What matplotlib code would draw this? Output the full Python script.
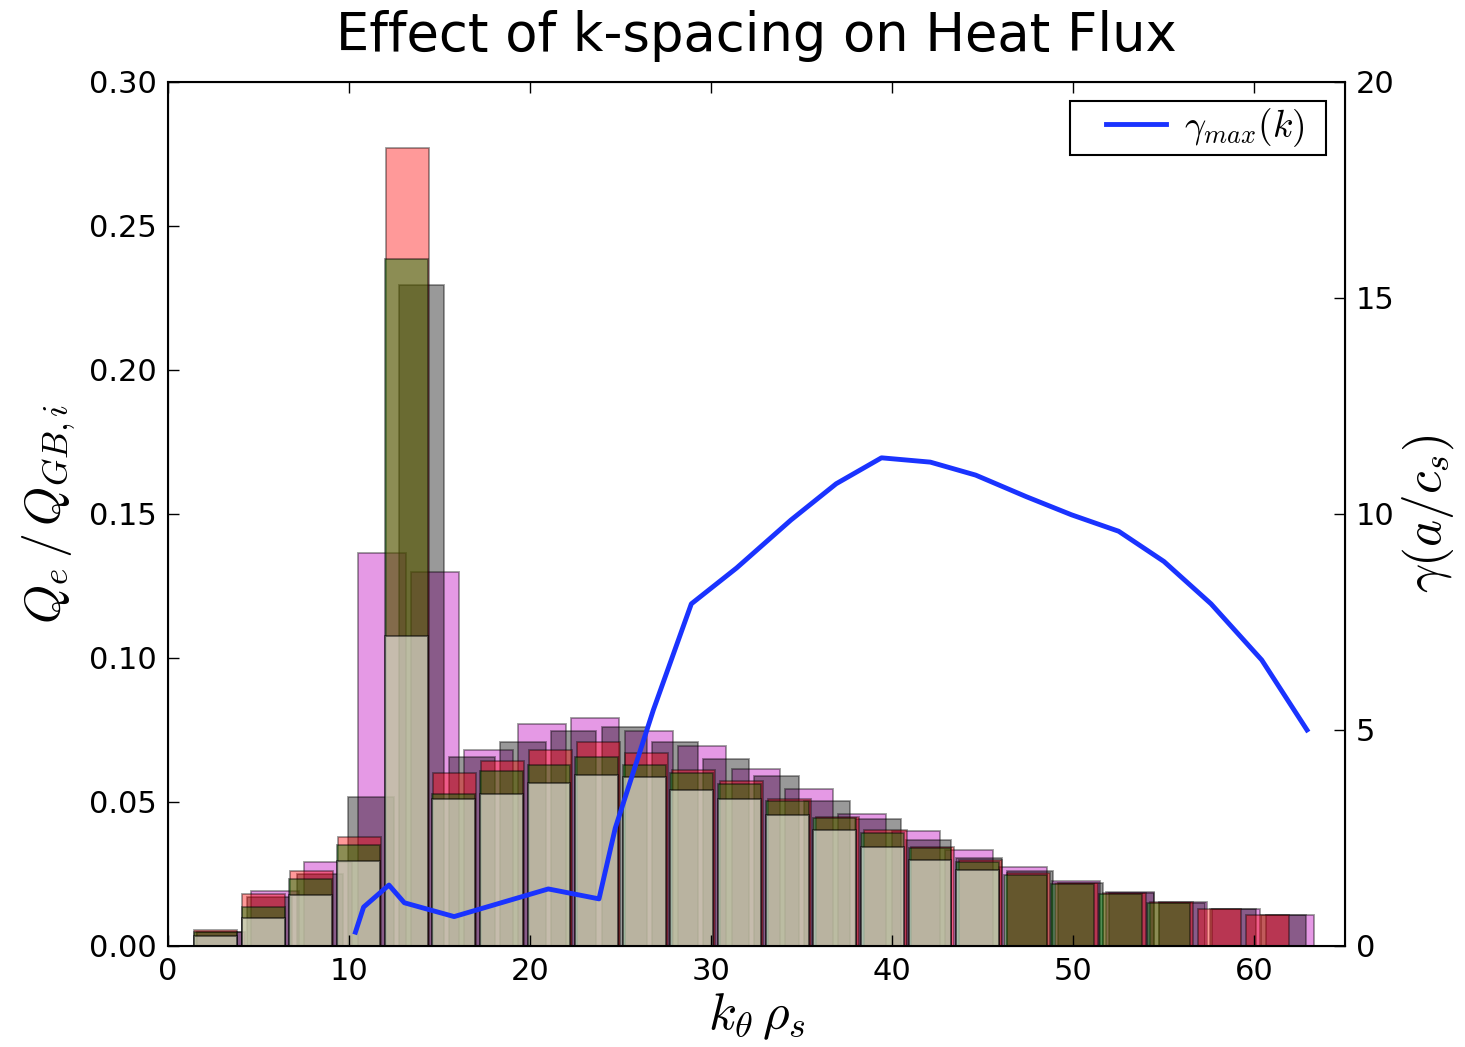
import matplotlib
matplotlib.use("Agg")
import matplotlib.pyplot as plt
from matplotlib.lines import Line2D
from matplotlib.legend_handler import HandlerLine2D

plt.rcParams['mathtext.fontset'] = 'cm'
plt.rcParams['font.family'] = ['DejaVu Sans']

# ======================
# data: heat flux spectra for different k-spacings
# ======================
k_violet = [2.95, 5.9, 8.85, 11.8, 14.75, 17.7, 20.65, 23.6, 26.55, 29.5, 32.45,
            35.4, 38.35, 41.3, 44.25, 47.2, 50.15, 53.1, 56.05, 59.0, 61.95]
q_violet = [0.005, 0.019, 0.029, 0.1365, 0.130, 0.068, 0.077, 0.079, 0.0745, 0.0694, 0.0615,
            0.0545, 0.0458, 0.040, 0.0333, 0.0275, 0.0226, 0.0188, 0.0153, 0.0128, 0.0108]

k_gray = [2.8, 5.6, 8.4, 11.2, 14.0, 16.8, 19.6, 22.4, 25.2, 28.0, 30.8,
          33.6, 36.4, 39.2, 42.0, 44.8, 47.6, 50.4, 53.2, 56.0, 58.8, 61.6]
q_gray = [0.005, 0.017, 0.025, 0.0517, 0.2295, 0.0656, 0.0708, 0.0747, 0.076, 0.0708, 0.065,
          0.059, 0.0503, 0.044, 0.0368, 0.0306, 0.026, 0.022, 0.0184, 0.015, 0.0128, 0.0108]

k_red = [2.64, 5.28, 7.92, 10.56, 13.2, 15.84, 18.48, 21.12, 23.76, 26.4, 29.04, 31.68,
         34.32, 36.96, 39.6, 42.24, 44.88, 47.52, 50.16, 52.8, 55.44, 58.08, 60.72]
q_red = [0.0055, 0.018, 0.026, 0.038, 0.277, 0.060, 0.0642, 0.068, 0.0708, 0.067, 0.061, 0.0573,
         0.051, 0.0448, 0.0403, 0.0345, 0.030, 0.0252, 0.0218, 0.0183, 0.0153, 0.0128, 0.0108]

k_green = [2.63, 5.26, 7.89, 10.52, 13.15, 15.78, 18.41, 21.04, 23.67, 26.3, 28.93,
           31.56, 34.19, 36.82, 39.45, 42.08, 44.71, 47.34, 49.97, 52.6, 55.23]
q_green = [0.005, 0.0135, 0.0233, 0.035, 0.2385, 0.0528, 0.0608, 0.0628, 0.0656, 0.063, 0.060,
           0.0563, 0.0503, 0.0445, 0.0392, 0.034, 0.0292, 0.0246, 0.0215, 0.018, 0.015]

k_white = [2.63, 5.26, 7.89, 10.52, 13.15, 15.78, 18.41, 21.04, 23.67, 26.3, 28.93,
           31.56, 34.19, 36.82, 39.45, 42.08, 44.71]
q_white = [0.0035, 0.0097, 0.0177, 0.0295, 0.1076, 0.051, 0.0528, 0.0566, 0.0594, 0.0587, 0.054,
           0.051, 0.0455, 0.0403, 0.0344, 0.0299, 0.0264]

# growth rate
k_gam = [10.35, 10.8, 12.2, 13.05, 15.8, 21.0, 23.8, 24.7, 26.8, 28.9, 31.4, 34.4,
         36.9, 39.4, 42.1, 44.6, 47.4, 49.9, 52.5, 55.0, 57.6, 60.4, 62.9]
gam = [0.32, 0.9, 1.41, 1.0, 0.68, 1.32, 1.09, 2.73, 5.46, 7.92, 8.75, 9.86,
       10.7, 11.3, 11.2, 10.9, 10.4, 9.98, 9.6, 8.9, 7.92, 6.62, 5.0]

# ======================
# plot
# ======================
fig = plt.figure(figsize=(14.65, 10.47), dpi=100)
ax = fig.add_axes([0.1147, 0.0965, 0.8034, 0.8252])

series = [
    (k_violet, q_violet, 2.95, (0.75, 0, 0.75), 0.4),
    (k_gray, q_gray, 2.8, 'k', 0.4),
    (k_red, q_red, 2.64, 'r', 0.4),
    (k_green, q_green, 2.63, (0, 0.5, 0), 0.45),
    (k_white, q_white, 2.63, 'w', 0.55),
]
for kk, qq, dk, col, a in series:
    ax.bar(kk, qq, width=0.9 * dk, color=col, edgecolor='k', linewidth=1.3,
           alpha=a, align='center')

ax.set_xlim(0, 65)
ax.set_ylim(0, 0.30)
ax.set_yticks([0, 0.05, 0.10, 0.15, 0.20, 0.25, 0.30])
ax.set_yticklabels(['0.00', '0.05', '0.10', '0.15', '0.20', '0.25', '0.30'])
ax.set_xticks([0, 10, 20, 30, 40, 50, 60])
ax.tick_params(axis='x', direction='in', top=True, length=8, width=1, labelsize=22, pad=8)
ax.tick_params(axis='y', direction='in', length=8, width=1, labelsize=22, pad=8)
ax.set_xlabel(r'$k_\theta\,\rho_s$', fontsize=37, labelpad=4)
ax.set_ylabel(r'$Q_e\,/\,Q_{GB,i}$', fontsize=36, labelpad=8)
ax.set_title('Effect of k-spacing on Heat Flux', fontsize=38, pad=22)
for s in ax.spines.values():
    s.set_linewidth(1.5)

ax2 = ax.twinx()
ax2.plot(k_gam, gam, color=(0.1, 0.2, 1.0), linewidth=3.5, label=r'$\gamma_{max}(k)$  ')
ax2.set_ylim(0, 20)
ax2.set_yticks([0, 5, 10, 15, 20])
ax2.tick_params(axis='y', direction='in', length=8, width=1, labelsize=22, pad=8)
ax2.set_ylabel(r'$\gamma(a/c_s)$', fontsize=37)
leg = ax2.legend(loc='upper right', fontsize=27, fancybox=False, handlelength=2.4,
                 handletextpad=0.5, borderpad=0.15, borderaxespad=0.5, framealpha=1,
                 handler_map={Line2D: HandlerLine2D(xpad=0.8)})
leg.get_frame().set_edgecolor('k')
leg.get_frame().set_linewidth(1.5)

plt.savefig('out.png', dpi=100)
